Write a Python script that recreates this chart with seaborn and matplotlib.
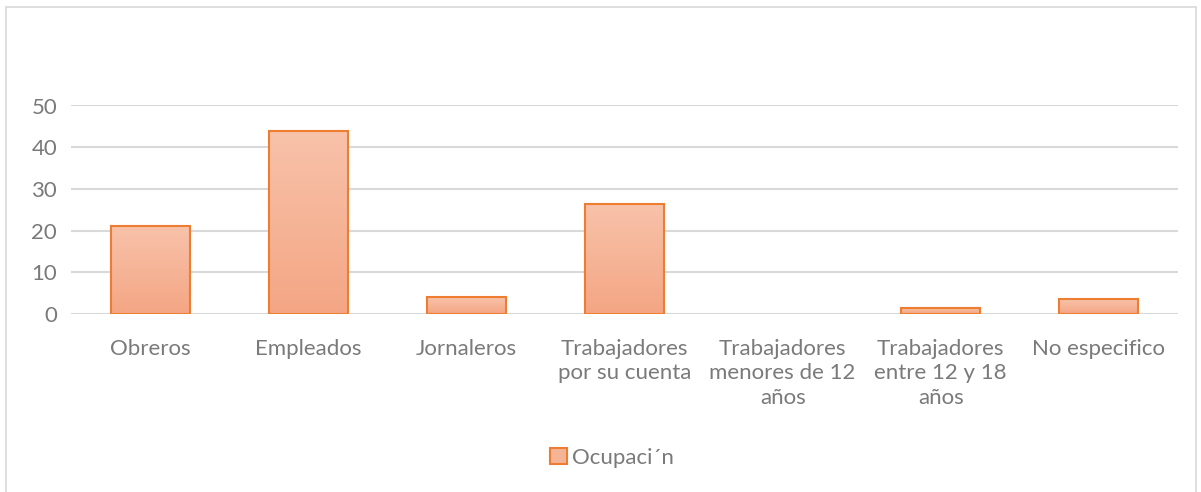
import numpy as np
import pandas as pd
import matplotlib
matplotlib.use("Agg")
import matplotlib.pyplot as plt
import seaborn as sns
from matplotlib.patches import Rectangle
from matplotlib.colors import LinearSegmentedColormap

# -------------------------------
# Data
# -------------------------------
categorias = ["Obreros", "Empleados", "Jornaleros",
              "Trabajadores\npor su cuenta",
              "Trabajadores\nmenores de 12\naños",
              "Trabajadores\nentre 12 y 18\naños",
              "No especifico"]
valores = [21.0, 44.0, 4.0, 26.3, 0.0, 1.5, 3.5]
serie = "Ocupaci´n"

df = pd.DataFrame({"categoria": categorias, "valor": valores})

# -------------------------------
# Figure
# -------------------------------
sns.set_style("white")
plt.rcParams["font.family"] = ["Lato", "DejaVu Sans"]

texto = "#7a7a7a"
borde = "#ed7d31"
fs = 16

fig = plt.figure(figsize=(12.01, 4.92), dpi=100)
ax = fig.add_axes([71/1201, 1-314/492, (1178-71)/1201, (314-105.5)/492])

sns.barplot(data=df, x="categoria", y="valor", ax=ax, width=0.5,
            color="#f5b090", edgecolor=borde, linewidth=1.5, saturation=1)

# gradient fill inside each bar
grad = LinearSegmentedColormap.from_list("g", ["#f4a684", "#f8c2aa"])
for p in ax.patches:
    if p.get_height() <= 0:
        p.set_visible(False)
        continue
    x0, y0 = p.get_x(), p.get_y()
    w, h = p.get_width(), p.get_height()
    im = ax.imshow(np.linspace(0, 1, 100).reshape(-1, 1), cmap=grad,
                   aspect="auto", origin="lower",
                   extent=[x0, x0 + w, y0, y0 + h], zorder=p.get_zorder())
    im.set_clip_path(p)
    p.set_facecolor("none")
    p.set_zorder(3)

ax.set_xlim(-0.5, len(categorias) - 0.5)
ax.set_ylim(0, 50)
ax.set_yticks(range(0, 51, 10))
ax.yaxis.grid(True, color="#d9d9d9", linewidth=1.5)
ax.set_axisbelow(True)
for s in ax.spines.values():
    s.set_visible(False)

ax.set_xlabel("")
ax.set_ylabel("")
ax.tick_params(axis="y", length=0, pad=10, labelsize=fs, labelcolor=texto)
ax.tick_params(axis="x", length=0, pad=18, labelsize=fs, labelcolor=texto)
for t in ax.get_xticklabels():
    t.set_linespacing(1.27)

# legend
h = Rectangle((0, 0), 1, 1, facecolor="#f6b496", edgecolor=borde, linewidth=1.5)
fig.legend([h], [serie], loc="center", bbox_to_anchor=(612/1201, 1-458/492),
           frameon=False, fontsize=fs, labelcolor=texto,
           handlelength=0.75, handleheight=0.75, handletextpad=0.25)

# outer chart border
fig.patches.append(Rectangle((6/1201, -0.05), (1196-6)/1201, 1.05 - 7/492,
                             transform=fig.transFigure, fill=False,
                             edgecolor="#d9d9d9", linewidth=1.2))

fig.savefig("out.png", dpi=100)
